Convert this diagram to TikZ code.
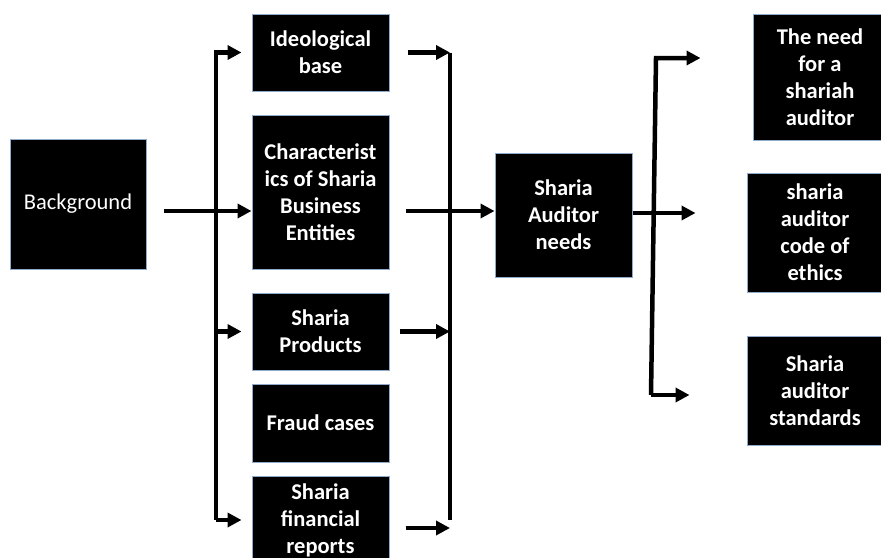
\documentclass[tikz,border=0pt]{standalone}
\usepackage{fontspec}
\setmainfont{Carlito}
\usepackage{tikz}
\usetikzlibrary{calc}
\usetikzlibrary{arrows.meta}
\definecolor{edgeblue}{RGB}{143,170,204}
\tikzset{
   box/.style={fill=black, draw=edgeblue, line width=1pt, text=white,
      align=center, inner sep=0pt, minimum width=137pt,
      font=\fontsize{22.5}{27}\selectfont\bfseries},
   link/.style={draw=black, line width=4.5pt},
   arr/.style={link, ->},
    }

\begin{document}
\begin{tikzpicture}
        [x=1pt,y=-1pt,>={Triangle[length=14pt,width=14pt]}]
        \clip (0,0) rectangle (881,557);
        % left column
        \node[box,minimum width=136pt,minimum height=130pt,font=\fontsize{22.5}{27}\selectfont] (bg) at (78,204) {Background};
        % middle column
        \node[box,minimum height=77pt] (ideo) at (320.5,52.5) {Ideological\\base};
        \node[box,minimum height=154pt] (charac) at (320.5,192) {Characterist\\ics of Sharia\\Business\\Entities};
        \node[box,minimum height=77pt] (prod) at (320.5,331.5) {Sharia\\Products};
        \node[box,minimum height=78pt] (fraud) at (320.5,423) {Fraud cases};
        \node[box,minimum height=88pt] (finrep) at (320.5,520) {Sharia\\financial\\reports};
        \node[box,minimum height=124pt] (needs) at (563.5,215) {Sharia\\Auditor\\needs};
        % right column
        \node[box,minimum width=134pt,minimum height=126pt] (need) at (820,77) {The need\\for a\\shariah\\auditor};
        \node[box,minimum width=136pt,minimum height=119pt] (ethics) at (815,232.5) {sharia\\auditor\\code of\\ethics};
        \node[box,minimum width=136pt,minimum height=109pt] (stds) at (815,390.5) {Sharia\\auditor\\standards};

        % left bus
            \coordinate (lb) at (216,0);
            \draw[arr] (lb |- finrep.west) -- (lb |- ideo.west) -- ([xshift=-10pt]ideo.west);
            \draw[arr] (lb |- prod.west) -- ([xshift=-10pt]prod.west);
            \draw[arr] (lb |- finrep.west) -- ([xshift=-10pt]finrep.west);
            \draw[arr] ([xshift=17pt,yshift=-7pt]bg.east) -- ([yshift=-7pt]bg.east -| charac.west);
        % right bus
            \coordinate (rb) at (450,0);
            \draw[link] (rb |- ideo.east) -- (rb |- finrep.west);
            \draw[arr] ([xshift=18pt]ideo.east) -- (rb |- ideo.east);
            \draw[arr] ([xshift=10pt]prod.east) -- (rb |- prod.east);
            \draw[arr] ([xshift=16pt,yshift=-8pt]finrep.east) -- ([yshift=-8pt]rb |- finrep.east);
            \draw[arr] ([xshift=16pt,yshift=-19pt]charac.east) -- ([yshift=-19pt]charac.east -| needs.west);
        % output bus
            \coordinate (top) at (656,58);
            \coordinate (bot) at (651,395);
            \draw[arr] (bot) -- (top) -- ([xshift=-52pt]need.west |- top);
            \draw[arr] (bot) -- ([xshift=-57pt]stds.west |- bot);
            \draw[arr] ([yshift=2pt]needs.east) -- ([xshift=-51pt,yshift=2pt]needs.east -| ethics.west);

        \end{tikzpicture}
\end{document}
